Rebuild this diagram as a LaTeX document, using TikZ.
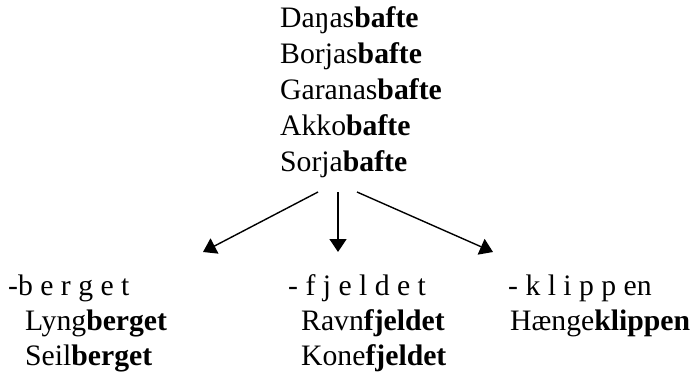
\documentclass[tikz,border=0pt]{standalone}
\usepackage{fontspec}
\setmainfont{Liberation Serif}
\usetikzlibrary{arrows.meta}
\begin{document}
\begin{tikzpicture}[x=1pt,y=-1pt,
  word/.style={anchor=base west,inner sep=0pt,font=\fontsize{29.7}{36}\selectfont},
  arr/.style={-{Triangle[length=13pt,width=17pt]},line width=1.4pt}]
\useasboundingbox (0,0) rectangle (693,375);
\node[word] (t1) at (280,27) {Daŋas\textbf{bafte}};
\node[word] (t2) at (280,63) {Borjas\textbf{bafte}};
\node[word] (t3) at (280,99) {Garanas\textbf{bafte}};
\node[word] (t4) at (280,135) {Akko\textbf{bafte}};
\node[word] (t5) at (280,171) {Sorja\textbf{bafte}};
\coordinate (s1) at (318,192);
\coordinate (s2) at (338,192);
\coordinate (s3) at (357,192);
\coordinate (e1) at (203,252);
\coordinate (e2) at (338,252);
\coordinate (e3) at (493,252);
\draw[arr] (s1) -- (e1);
\draw[arr] (s2) -- (e2);
\draw[arr] (s3) -- (e3);
\node[word] (a0) at (8,295) {-b e r g e t};
\node[word] (a1) at (25,330) {Lyng\textbf{berget}};
\node[word] (a2) at (25,365) {Seil\textbf{berget}};
\node[word] (b0) at (288,295) {- f j e l d e t};
\node[word] (b1) at (301,330) {Ravn\textbf{fjeldet}};
\node[word] (b2) at (301,365) {Kone\textbf{fjeldet}};
\node[word] (c0) at (508,295) {- k l i p p en};
\node[word] (c1) at (510,330) {Hænge\textbf{klippen}};
\end{tikzpicture}
\end{document}
